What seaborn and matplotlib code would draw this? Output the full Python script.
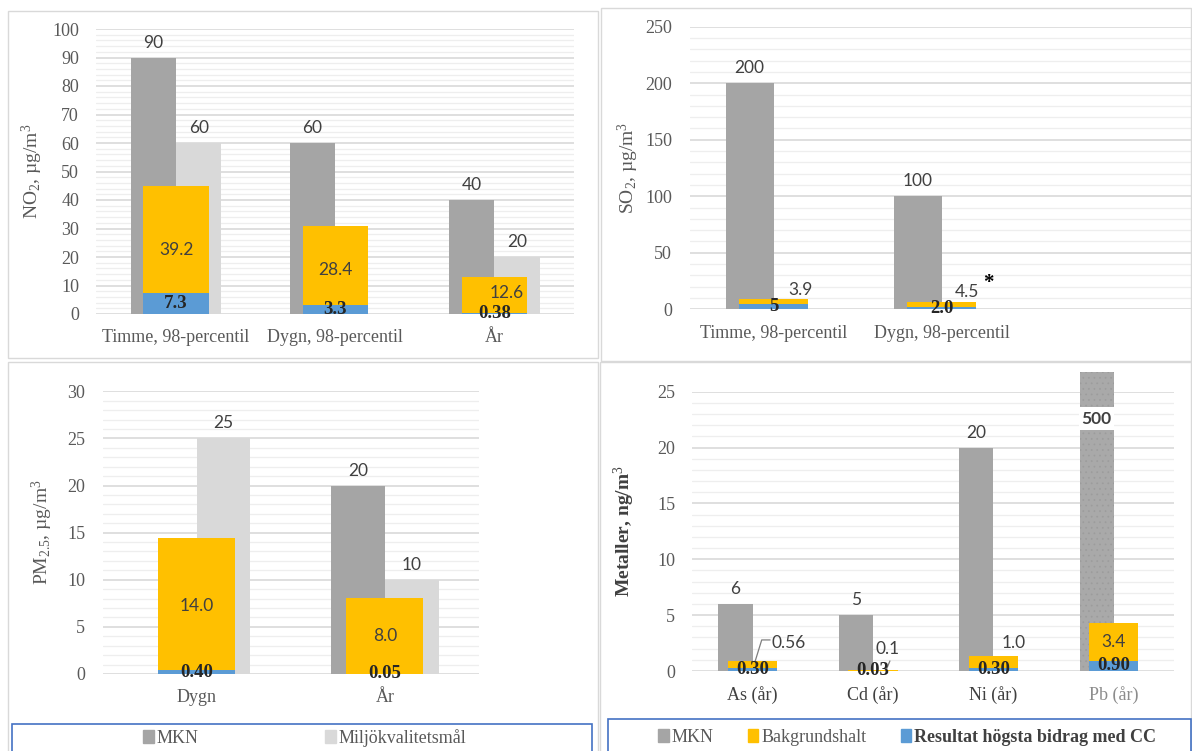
import matplotlib
matplotlib.use("Agg")
import matplotlib.pyplot as plt
from matplotlib.patches import Rectangle, Patch
from matplotlib.lines import Line2D
from matplotlib.ticker import MultipleLocator
import pandas as pd
import seaborn as sns

# ---- data ------------------------------------------------------------------
no2_cats = ["Timme, 98-percentil", "Dygn, 98-percentil", "År"]
no2_mkn = [90, 60, 40]
no2_miljo = [60, None, 20]
no2_bg = [45, 31, 13]            # height of yellow bar
no2_bg_lbl = ["39.2", "28.4", "12.6"]
no2_cc = [7.3, 3.3, 0.38]
no2_cc_lbl = ["7.3", "3.3", "0.38"]

so2_cats = ["Timme, 98-percentil", "Dygn, 98-percentil"]
so2_mkn = [200, 100]
so2_miljo = [None, None]
so2_bg = [8.9, 6.5]
so2_bg_lbl = ["3.9", "4.5"]
so2_cc = [5, 2.0]
so2_cc_lbl = ["5", "2.0"]

pm_cats = ["Dygn", "År"]
pm_mkn = [None, 20]
pm_miljo = [25, 10]
pm_bg = [14.4, 8.05]
pm_bg_lbl = ["14.0", "8.0"]
pm_cc = [0.40, 0.05]
pm_cc_lbl = ["0.40", "0.05"]

met_cats = ["As (år)", "Cd (år)", "Ni (år)", "Pb (år)"]
met_mkn = [6, 5, 20, 500]
met_miljo = [None, None, None, None]
met_bg = [0.86, 0.13, 1.3, 4.3]
met_bg_lbl = ["0.56", "0.1", "1.0", "3.4"]
met_cc = [0.30, 0.03, 0.30, 0.90]
met_cc_lbl = ["0.30", "0.03", "0.30", "0.90"]

MKN_C = "#A5A5A5"
MILJO_C = "#D9D9D9"
BG_C = "#FFC000"
CC_C = "#5B9BD5"
TXT = "#404040"
TICK = "#595959"

sns.set_style("white")
plt.rcParams["font.family"] = ["Liberation Serif", "DejaVu Serif"]
plt.rcParams["mathtext.fontset"] = "custom"
plt.rcParams["mathtext.rm"] = "Liberation Serif"
plt.rcParams["mathtext.it"] = "Liberation Serif:italic"
plt.rcParams["hatch.linewidth"] = 0.5

W, H = 1192, 751
fig = plt.figure(figsize=(W / 100, H / 100), dpi=100)


def px_axes(x0, x1, ytop, ybot):
    return fig.add_axes([x0 / W, 1 - ybot / H, (x1 - x0) / W, (ybot - ytop) / H])


def draw_panel(ax, cats, mkn, miljo, bg, cc, ymax, major, minor, show_mkn=None):
    n = len(cats)
    vals = list(mkn if show_mkn is None else show_mkn) + list(miljo)
    long = pd.DataFrame({
        "cat": cats * 2,
        "serie": ["MKN"] * n + ["Miljö"] * n,
        # missing bars kept as zero height so that the pair stays dodged
        "val": [0 if v is None else v for v in vals],
    })
    sns.barplot(data=long, x="cat", y="val", hue="serie", order=cats,
                hue_order=["MKN", "Miljö"], palette={"MKN": MKN_C, "Miljö": MILJO_C},
                width=0.57, saturation=1, errorbar=None, legend=False,
                linewidth=0, ax=ax)
    pair = list(ax.containers)
    sns.barplot(x=cats, y=bg, order=cats, color=BG_C, width=0.41, saturation=1,
                errorbar=None, linewidth=0, ax=ax)
    sns.barplot(x=cats, y=cc, order=cats, color=CC_C, width=0.41, saturation=1,
                errorbar=None, linewidth=0, ax=ax)
    ax.set_ylim(0, ymax)
    ax.yaxis.set_major_locator(MultipleLocator(major))
    ax.yaxis.set_minor_locator(MultipleLocator(minor))
    ax.grid(axis="y", which="major", color="#D9D9D9", lw=1.2)
    ax.grid(axis="y", which="minor", color="#EEEEEE", lw=0.9)
    ax.grid(axis="x", visible=False)
    ax.set_axisbelow(True)
    for s in ax.spines.values():
        s.set_visible(False)
    ax.tick_params(axis="both", which="both", length=0, labelsize=13,
                   labelcolor=TICK)
    ax.tick_params(axis="y", pad=12.5)
    ax.tick_params(axis="x", pad=11)
    ax.set_xlabel("")
    return pair, [mkn, miljo]


def value_labels(ax, pair, series, override=None):
    for k, (c, vals) in enumerate(zip(pair, series)):
        if override is not None and k == 0:
            labels = override
        else:
            labels = ["" if v is None else f"{v:g}" for v in vals]
        ax.bar_label(c, labels=labels, padding=5, fontfamily="Lato",
                     fontsize=12.5, color=TXT)


def cc_labels(ax, cc, lbl):
    for i, (v, t) in enumerate(zip(cc, lbl)):
        ax.text(i, v / 2, t, ha="center", va="center", fontsize=13.5,
                fontweight="bold", color="#262626")


def bg_labels(ax, lbl, dx, ypos, ha="center"):
    for i, t in enumerate(lbl):
        ax.text(i + dx[i], ypos[i], t, ha=ha if isinstance(ha, str) else ha[i],
                va="center", fontfamily="Lato", fontsize=12.5, color=TXT)


# ---- NO2 -------------------------------------------------------------------
ax1 = px_axes(96.4, 574, 29, 314)
pair, ser = draw_panel(ax1, no2_cats, no2_mkn, no2_miljo, no2_bg, no2_cc, 100, 10, 2)
value_labels(ax1, pair, ser)
bg_labels(ax1, no2_bg_lbl, [0, 0, 0.08],
          [no2_bg[0] / 2, no2_bg[1] / 2, no2_bg[2] * 0.58])
cc_labels(ax1, no2_cc, no2_cc_lbl)
ax1.set_ylabel("NO$_2$, µg/m$^3$", fontsize=14, color=TICK)
ax1.yaxis.set_label_coords(-0.108, 0.5)

# ---- SO2 -------------------------------------------------------------------
ax2 = px_axes(689.5, 1192, 26.7, 309.3)
pair, ser = draw_panel(ax2, so2_cats, so2_mkn, so2_miljo, so2_bg, so2_cc, 250, 50, 10)
ax2.set_xlim(-0.5, 2.49)
value_labels(ax2, pair, ser)
bg_labels(ax2, so2_bg_lbl, [0.16, 0.15], [so2_bg[0] + 8, so2_bg[1] + 9])
ax2.text(1.28, 23, "*", ha="center", va="center", fontsize=15,
         fontweight="bold", color="black")
cc_labels(ax2, so2_cc, so2_cc_lbl)
ax2.set_ylabel("SO$_2$, µg/m$^3$", fontsize=14, color=TICK)
ax2.yaxis.set_label_coords(-0.0975, 0.5)

# ---- PM2.5 -----------------------------------------------------------------
ax3 = px_axes(102.6, 479, 391.3, 674)
pair, ser = draw_panel(ax3, pm_cats, pm_mkn, pm_miljo, pm_bg, pm_cc, 30, 5, 1)
value_labels(ax3, pair, ser)
bg_labels(ax3, pm_bg_lbl, [0, 0], [pm_bg[0] / 2, pm_bg[1] / 2])
cc_labels(ax3, pm_cc, pm_cc_lbl)
ax3.set_ylabel("PM$_{2.5}$, µg/m$^3$", fontsize=14, color=TICK)
ax3.yaxis.set_label_coords(-0.126, 0.5)

# ---- Metaller --------------------------------------------------------------
pb_break_lo, pb_break_hi, pb_top = 21.6, 23.6, 26.8
met_show = met_mkn[:3] + [pb_break_lo]
ax4 = px_axes(692.5, 1174, 391.7, 671)
pair, ser = draw_panel(ax4, met_cats, met_mkn, met_miljo, met_bg, met_cc, 25, 5, 1,
                       show_mkn=met_show)
pb = pair[0][3]
pb.set_height(pb_top)
pb.set_clip_on(False)
pb.set_facecolor("#A9A9A9")
pb.set_edgecolor("#9C9C9C")
pb.set_hatch("...")
ax4.add_patch(Rectangle((pb.get_x() - 0.005, pb_break_lo), pb.get_width() + 0.01,
                        pb_break_hi - pb_break_lo, facecolor="white",
                        edgecolor="none", zorder=3))
ax4.text(pb.get_x() + pb.get_width() / 2, (pb_break_lo + pb_break_hi) / 2,
         f"{met_mkn[3]}", ha="center", va="center", fontfamily="Lato",
         fontsize=12.5, fontweight="bold", color=TXT, zorder=4)
value_labels(ax4, pair, ser, override=[f"{v}" for v in met_mkn[:3]] + [""])
bg_labels(ax4, met_bg_lbl, [0.158, 0.02, 0.07, 0],
          [2.48, 1.94, 2.5, (met_bg[3] + met_cc[3]) / 2],
          ha=["left", "left", "left", "center"])
ax4.add_line(Line2D([0.02, 0.075, 0.145], [met_bg[0], 2.78, 2.78],
                    color="#7F7F7F", lw=0.9))
ax4.add_line(Line2D([1.11, 1.14], [met_bg[1], 0.9], color="#7F7F7F", lw=0.9))
cc_labels(ax4, met_cc, met_cc_lbl)
for t in ax4.get_xticklabels():
    if t.get_text().startswith("Pb"):
        t.set_color("#8C8C8C")
    else:
        t.set_color(TXT)
ax4.set_ylabel("Metaller, ng/m$^3$", fontsize=14, color=TXT, fontweight="bold")
ax4.yaxis.set_label_coords(-0.115, 0.5)

# ---- panel frames and legends ----------------------------------------------
def frame(x0, y0, x1, y1, ec, lw):
    fig.add_artist(Rectangle((x0 / W, 1 - y1 / H), (x1 - x0) / W, (y1 - y0) / H,
                             transform=fig.transFigure, fill=False, ec=ec, lw=lw))


frame(8, 11, 598, 358, "#D9D9D9", 1)
frame(601, 8, 1191, 361, "#D9D9D9", 1)
frame(8, 362, 598, 755, "#D9D9D9", 1)
frame(600, 362, 1191, 755, "#D9D9D9", 1)
frame(12, 724, 592, 755, "#4472C4", 1.2)
frame(608, 719, 1191, 755, "#4472C4", 1.2)

leg1 = fig.legend(handles=[Patch(color=MKN_C), Patch(color=MILJO_C)],
                  labels=["MKN", "Miljökvalitetsmål"], loc="center",
                  bbox_to_anchor=(305 / W, 1 - 738 / H), ncol=2, frameon=False,
                  fontsize=13, handlelength=0.6, handleheight=0.75,
                  handletextpad=0.15, columnspacing=7.0, labelcolor=TICK)
leg2 = fig.legend(handles=[Patch(color=MKN_C), Patch(color=BG_C), Patch(color=CC_C)],
                  labels=["MKN", "Bakgrundshalt", "Resultat högsta bidrag med CC"],
                  loc="center", bbox_to_anchor=(907 / W, 1 - 737 / H), ncol=3,
                  frameon=False, fontsize=13, handlelength=0.6, handleheight=0.75,
                  handletextpad=0.15, columnspacing=1.9, labelcolor=TICK)
leg2.get_texts()[2].set_fontweight("bold")
leg2.get_texts()[2].set_color(TXT)

fig.savefig("out.png", dpi=100)
